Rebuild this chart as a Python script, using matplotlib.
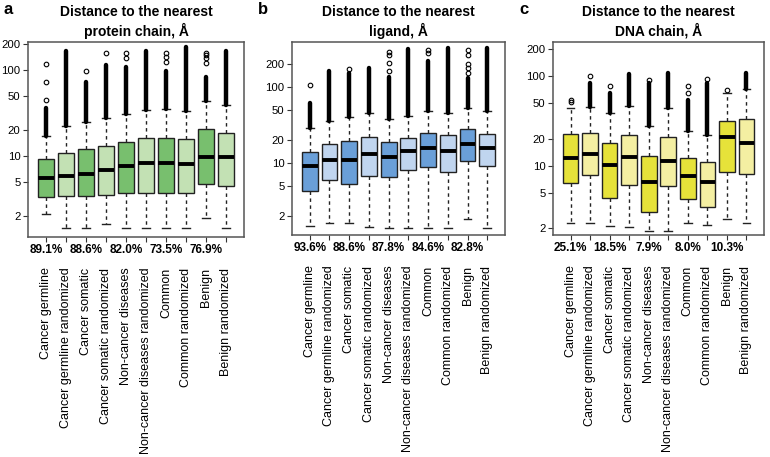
import numpy as np
import matplotlib
matplotlib.use("Agg")
import matplotlib.pyplot as plt

plt.rcParams['font.family'] = ['Liberation Sans', 'DejaVu Sans']

categories = ["Cancer germline", "Cancer germline randomized", "Cancer somatic",
              "Cancer somatic randomized", "Non-cancer diseases",
              "Non-cancer diseases randomized", "Common", "Common randomized",
              "Benign", "Benign randomized"]

titles = ["Distance to the nearest\nprotein chain, Å",
          "Distance to the nearest\nligand, Å",
          "Distance to the nearest\nDNA chain, Å"]
panel_letters = ["a", "b", "c"]

# Percent labels (under boxes 1,3,5,7,9)
pct_a = ["89.1%", "88.6%", "82.0%", "73.5%", "76.9%"]
pct_b = ["93.6%", "88.6%", "87.8%", "84.6%", "82.8%"]
pct_c = ["25.1%", "18.5%", "7.9%", "8.0%", "10.3%"]

# Panel a: protein chain
q1_a = [3.3, 3.4, 3.4, 3.52, 3.68, 3.75, 3.75, 3.75, 4.72, 4.48]
med_a = [5.55, 5.9, 6.18, 6.87, 7.66, 8.22, 8.3, 8.0, 9.82, 9.82]
q3_a = [9.23, 10.9, 11.9, 13.1, 14.4, 16.0, 16.3, 15.8, 20.4, 18.4]
wlo_a = [2.12, 1.47, 1.47, 1.62, 1.47, 1.47, 1.47, 1.47, 1.92, 1.47]
whi_a = [17.2, 22.3, 25.1, 27.4, 30.8, 34.3, 35.2, 33.6, 43.6, 39.2]
dense_a = [35.8, 168, 73, 114, 109, 168, 98, 184, 83.6, 168]
sparse_a = [[44.8, 73, 117], [], [97], [160], [137, 160], [],
            [125, 143, 160], [], [120, 137, 149, 160], []]

# Panel b: ligand
q1_b = [4.33, 5.97, 5.3, 6.74, 6.6, 8.09, 8.77, 7.69, 10.6, 9.04]
med_b = [9.14, 10.8, 10.9, 13.0, 12.0, 14.4, 15.8, 14.2, 18.0, 15.8]
q3_b = [14.1, 18.0, 19.5, 22.0, 18.9, 21.5, 25.1, 23.1, 27.7, 24.3]
wlo_b = [1.48, 1.61, 1.64, 1.45, 1.41, 1.41, 1.41, 1.41, 1.82, 1.41]
whi_b = [28.6, 36.1, 39.9, 45.1, 37.6, 41.5, 48.9, 45.9, 53.5, 48.9]
dense_b = [61, 164, 151, 176, 137, 316, 220, 323, 130, 323]
sparse_b = [[106], [], [173], [], [162, 205, 264, 292], [], [277, 307], [],
            [151, 176, 201, 264, 307], []]

# Panel c: DNA chain
q1_c = [6.46, 7.8, 4.36, 6.14, 3.07, 5.98, 4.25, 3.43, 8.43, 8.0]
med_c = [12.2, 13.5, 10.1, 12.6, 6.64, 11.3, 7.67, 6.64, 20.7, 18.0]
q3_c = [22.3, 23.3, 18.0, 22.0, 12.9, 21.0, 12.3, 11.0, 31.2, 33.4]
wlo_c = [2.31, 2.31, 2.12, 2.09, 1.88, 1.88, 2.31, 2.18, 2.54, 2.28]
whi_c = [44.4, 45.1, 39.0, 46.3, 27.7, 43.5, 24.4, 22.0, 65.2, 71.0]
dense_c = [np.nan, 84.3, 65.2, 105, 82.8, 107, 54, 82.8, np.nan, 107]
sparse_c = [[50.8, 54], [100], [77.3], [], [90], [], [65, 78], [92.6], [69.8], []]

yticks = [2, 5, 10, 20, 50, 100, 200]

panels = [
    dict(q1=q1_a, med=med_a, q3=q3_a, wlo=wlo_a, whi=whi_a, dense=dense_a,
         sparse=sparse_a, pct=pct_a, ylim=(1.14, 212),
         colors=["#78bf6e", "#c3e1b4"], box=(28, 244, 42, 237)),
    dict(q1=q1_b, med=med_b, q3=q3_b, wlo=wlo_b, whi=whi_b, dense=dense_b,
         sparse=sparse_b, pct=pct_b, ylim=(1.13, 391),
         colors=["#6a9fd8", "#c0d5ef"], box=(292, 505, 42, 235)),
    dict(q1=q1_c, med=med_c, q3=q3_c, wlo=wlo_c, whi=whi_c, dense=dense_c,
         sparse=sparse_c, pct=pct_c, ylim=(1.69, 239),
         colors=["#e6e23a", "#f4efa2"], box=(553, 764, 42, 235)),
]

W, H = 770, 457
fig = plt.figure(figsize=(W / 100, H / 100), dpi=100)

positions = np.arange(1, len(categories) + 1)

for i, p in enumerate(panels):
    l, r, t, b = p["box"]
    ax = fig.add_axes([l / W, 1 - b / H, (r - l) / W, (b - t) / H])
    stats = []
    for k in range(len(categories)):
        stats.append(dict(med=p["med"][k], q1=p["q1"][k], q3=p["q3"][k],
                          whislo=p["wlo"][k], whishi=p["whi"][k],
                          fliers=p["sparse"][k]))
    bp = ax.bxp(stats, positions=positions, widths=0.8, patch_artist=True,
                showfliers=True,
                boxprops=dict(edgecolor="#222222", linewidth=1.0),
                medianprops=dict(color="black", linewidth=2.8, solid_capstyle="butt"),
                whiskerprops=dict(color="#222222", linewidth=1.0,
                                  linestyle=(0, (2.5, 2.5))),
                capprops=dict(color="#222222", linewidth=1.0),
                capwidths=0.4,
                flierprops=dict(marker="o", markerfacecolor="none",
                                markeredgecolor="black", markersize=3.3,
                                markeredgewidth=0.8))
    for k, patch in enumerate(bp["boxes"]):
        patch.set_facecolor(p["colors"][k % 2])
    # dense outlier columns
    for k in range(len(categories)):
        top = p["dense"][k]
        if np.isfinite(top):
            ax.plot([positions[k], positions[k]], [p["whi"][k], top],
                    color="black", linewidth=3.2, solid_capstyle="round",
                    zorder=3)
    ax.set_yscale("log")
    ax.set_ylim(*p["ylim"])
    ax.set_xlim(0.1, 10.9)
    ax.set_yticks(yticks)
    ax.set_yticklabels([str(v) for v in yticks])
    ax.yaxis.set_minor_locator(matplotlib.ticker.NullLocator())
    ax.set_xticks(positions)
    ax.set_xticklabels(categories, rotation=90, fontsize=9.0, va="top", ha="center")
    ax.tick_params(axis="x", length=3.5, width=0.8, pad=18.5, color="#333333")
    ax.tick_params(axis="y", length=3.5, width=0.8, pad=2, labelsize=8.2,
                   color="#333333")
    for s in ax.spines.values():
        s.set_color("#555555")
        s.set_linewidth(1.1)
    for j, txt in enumerate(p["pct"]):
        ax.text(positions[2 * j], -0.066, txt, transform=ax.get_xaxis_transform(),
                ha="center", va="center", fontsize=8.5, fontweight="bold")
    cx = (l + r) / 2 / W
    fig.text(cx, 1 - 5 / H, titles[i], ha="center", va="top", fontsize=10,
             fontweight="bold", linespacing=1.3)
    fig.text((l - 25) / W if i == 0 else (l - 34) / W, 1 - 9 / H, panel_letters[i],
             ha="left", va="center", fontsize=12, fontweight="bold")

fig.savefig("out.png", dpi=100)
